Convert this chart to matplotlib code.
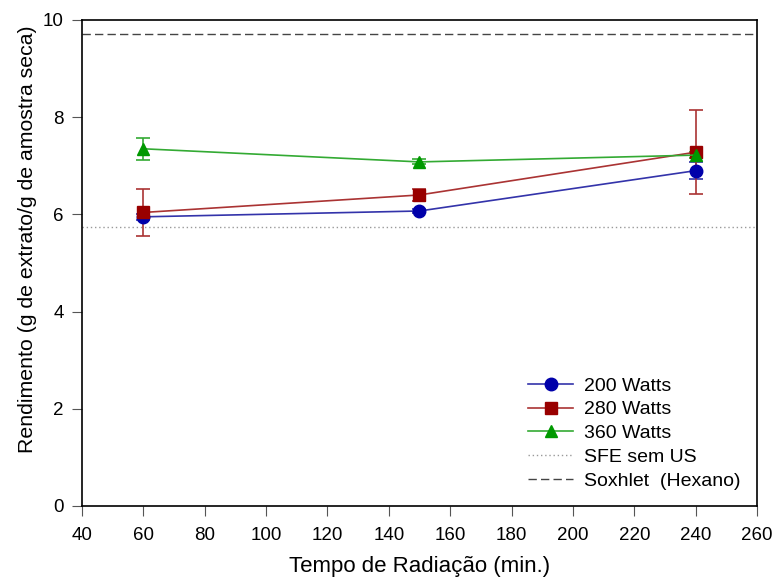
import matplotlib
matplotlib.use('Agg')
from matplotlib import pyplot as plt
from matplotlib.lines import Line2D

plt.rcParams['font.family'] = ['Liberation Sans', 'DejaVu Sans']

tempo = [60, 150, 240]
w200 = [5.95, 6.07, 6.90]
w200_err = [0.06, 0.05, 0.17]
w280 = [6.04, 6.40, 7.28]
w280_err = [0.48, 0.13, 0.87]
w360 = [7.35, 7.08, 7.22]
w360_err = [0.23, 0.05, 0.06]
sfe = 5.75
soxhlet = 9.72

fig = plt.figure(figsize=(7.76, 5.82), dpi=100)
ax = fig.add_axes([82/776, 1 - 506/582, 675/776, 486/582])

ax.axhline(sfe, color='#999999', linestyle=(0, (1, 2)), linewidth=1)
ax.axhline(soxhlet, color='#444444', linestyle=(0, (6, 3)), linewidth=1)

series = [
    (w200, w200_err, '#3333aa', '#0000aa', 'o', 9, '200 Watts'),
    (w280, w280_err, '#aa3333', '#990000', 's', 8, '280 Watts'),
    (w360, w360_err, '#33aa33', '#009900', '^', 9, '360 Watts'),
]
handles = []
for vals, err, lc, mc, mk, ms, lab in series:
    ax.errorbar(tempo, vals, yerr=err, color=lc, mfc=mc, mec=mc, marker=mk,
                markersize=ms, linewidth=1.2, capsize=5, capthick=1.2)
    handles.append(Line2D([], [], color=lc, mfc=mc, mec=mc, marker=mk,
                          markersize=ms, linewidth=1.2, label=lab))
handles.append(Line2D([], [], color='#999999', linestyle=(0, (1, 2)), linewidth=1, label='SFE sem US'))
handles.append(Line2D([], [], color='#444444', linestyle=(0, (6, 3)), linewidth=1, label='Soxhlet  (Hexano)'))

ax.set_xlim(40, 260)
ax.set_ylim(0, 10)
ax.set_xticks(range(40, 261, 20))
ax.set_yticks(range(0, 11, 2))
ax.tick_params(direction='out', length=7, labelsize=13.5, color='#555555')
ax.tick_params(axis='x', pad=8)
ax.tick_params(axis='y', pad=6)
ax.set_xlabel('Tempo de Radiação (min.)', fontsize=16, labelpad=9)
ax.set_ylabel('Rendimento (g de extrato/g de amostra seca)', fontsize=15.3)
ax.yaxis.set_label_coords(-0.067, 0.549)
for s in ax.spines.values():
    s.set_linewidth(1.2)

ax.legend(handles=handles, loc='lower right', frameon=False, fontsize=14,
          handlelength=2.3, handletextpad=0.55, labelspacing=0.32, borderpad=0,
          borderaxespad=0, bbox_to_anchor=(0.975, 0.033))

fig.savefig('out.png', dpi=100)
